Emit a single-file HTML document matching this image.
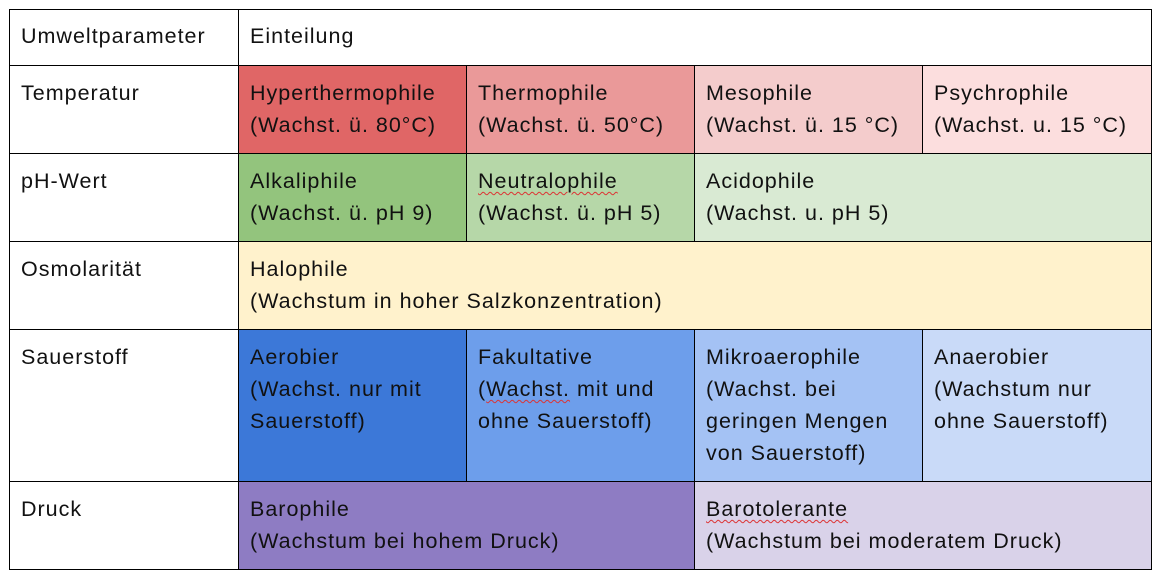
<!DOCTYPE html>
<html><head><meta charset="utf-8"><style>
html,body{margin:0;padding:0;background:#fff;width:1162px;height:580px;overflow:hidden}
.c{position:absolute;box-sizing:border-box;border:1px solid #000;padding:11px 0 0 11px;font-family:"Liberation Sans",Arial,sans-serif;font-size:21.5px;letter-spacing:1px;line-height:32px;color:#111;margin:-1px 0 0 -1px;white-space:nowrap}
.w{text-decoration:underline wavy #d33;text-decoration-thickness:1px;text-underline-offset:3px}
</style></head><body>
<div class="c" style="left:10px;top:10px;width:230px;height:57px;padding-top:10px">Umweltparameter</div>
<div class="c" style="left:239px;top:10px;width:914px;height:57px;padding-top:10px">Einteilung</div>

<div class="c" style="left:10px;top:66px;width:230px;height:89px">Temperatur</div>
<div class="c" style="left:239px;top:66px;width:229px;height:89px;background:#e06666">Hyperthermophile<br>(Wachst. ü. 80°C)</div>
<div class="c" style="left:467px;top:66px;width:229px;height:89px;background:#ea9999">Thermophile<br>(Wachst. ü. 50°C)</div>
<div class="c" style="left:695px;top:66px;width:229px;height:89px;background:#f4cccc">Mesophile<br>(Wachst. ü. 15 °C)</div>
<div class="c" style="left:923px;top:66px;width:230px;height:89px;background:#fcdede">Psychrophile<br>(Wachst. u. 15 °C)</div>

<div class="c" style="left:10px;top:154px;width:230px;height:89px">pH-Wert</div>
<div class="c" style="left:239px;top:154px;width:229px;height:89px;background:#93c47d">Alkaliphile<br>(Wachst. ü. pH 9)</div>
<div class="c" style="left:467px;top:154px;width:229px;height:89px;background:#b6d7a8"><span class="w">Neutralophile</span><br>(Wachst. ü. pH 5)</div>
<div class="c" style="left:695px;top:154px;width:458px;height:89px;background:#d9ead3">Acidophile<br>(Wachst. u. pH 5)</div>

<div class="c" style="left:10px;top:242px;width:230px;height:89px">Osmolarität</div>
<div class="c" style="left:239px;top:242px;width:914px;height:89px;background:#fff2cc">Halophile<br>(Wachstum in hoher Salzkonzentration)</div>

<div class="c" style="left:10px;top:330px;width:230px;height:153px">Sauerstoff</div>
<div class="c" style="left:239px;top:330px;width:229px;height:153px;background:#3c78d8">Aerobier<br>(Wachst. nur mit<br>Sauerstoff)</div>
<div class="c" style="left:467px;top:330px;width:229px;height:153px;background:#6d9eeb">Fakultative<br>(<span class="w">Wachst.</span> mit und<br>ohne Sauerstoff)</div>
<div class="c" style="left:695px;top:330px;width:229px;height:153px;background:#a4c2f4">Mikroaerophile<br>(Wachst. bei<br>geringen Mengen<br>von Sauerstoff)</div>
<div class="c" style="left:923px;top:330px;width:230px;height:153px;background:#c9daf8">Anaerobier<br>(Wachstum nur<br>ohne Sauerstoff)</div>

<div class="c" style="left:10px;top:482px;width:230px;height:89px">Druck</div>
<div class="c" style="left:239px;top:482px;width:457px;height:89px;background:#8e7cc3">Barophile<br>(Wachstum bei hohem Druck)</div>
<div class="c" style="left:695px;top:482px;width:458px;height:89px;background:#d9d2e9"><span class="w">Barotolerante</span><br>(Wachstum bei moderatem Druck)</div>
</body></html>
